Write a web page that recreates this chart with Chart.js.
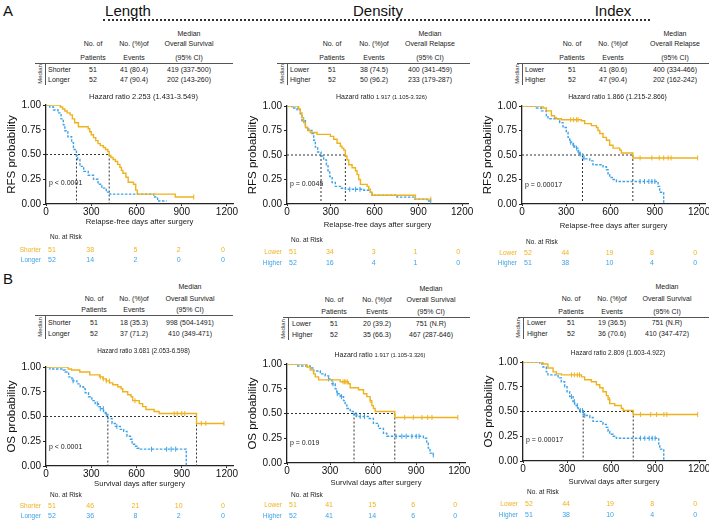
<!DOCTYPE html>
<html>
<head>
<meta charset="utf-8">
<script src="https://cdn.jsdelivr.net/npm/chart.js@4.4.0/dist/chart.umd.min.js"></script>
<style>
  body { margin: 0; background: #fff; font-family: 'Liberation Sans', Arial, sans-serif; color: #222; }
  #page { position: relative; width: 709px; height: 521px; overflow: hidden; background: #fff; }
  .t { position: absolute; white-space: nowrap; line-height: 1; }
  canvas { position: absolute; }
</style>
</head>
<body>
<div id="page"></div>
<script>
// ---- data ----
const riskDays = [0, 300, 600, 900, 1200];

// A: relapse-free survival, Length
const rfsLengthShorterDays = [0, 95, 110, 125, 140, 160, 175, 190, 215, 280, 290, 300, 315, 330, 345, 360, 380, 395, 410, 419, 430, 445, 460, 475, 490, 500, 510, 530, 545, 580, 595, 605, 857, 980];
const rfsLengthShorterSurv = [1, 0.98, 0.96, 0.94, 0.92, 0.90, 0.86, 0.82, 0.78, 0.76, 0.73, 0.70, 0.67, 0.64, 0.61, 0.59, 0.57, 0.55, 0.53, 0.49, 0.47, 0.45, 0.43, 0.40, 0.37, 0.34, 0.31, 0.27, 0.22, 0.20, 0.14, 0.10, 0.07, 0.07];
const rfsLengthShorterCensor = [980];
const rfsLengthLongerDays = [0, 25, 50, 80, 100, 115, 125, 145, 170, 182, 202, 210, 225, 250, 280, 315, 345, 370, 400, 425, 715, 740, 800];
const rfsLengthLongerSurv = [1, 0.98, 0.95, 0.92, 0.86, 0.80, 0.74, 0.68, 0.62, 0.55, 0.49, 0.45, 0.38, 0.33, 0.29, 0.25, 0.20, 0.16, 0.12, 0.10, 0.07, 0.03, 0.03];
const rfsLengthLongerCensor = [];
const rfsLengthShorterRisk = [51, 38, 5, 2, 0];
const rfsLengthLongerRisk = [52, 14, 2, 0, 0];
const rfsLengthMedians = [419, 202];

// A: relapse-free survival, Density
const rfsDensityLowerDays = [0, 80, 91, 103, 114, 126, 142, 160, 206, 297, 320, 343, 366, 377, 389, 400, 411, 423, 446, 469, 480, 491, 503, 549, 560, 571, 583, 880, 985];
const rfsDensityLowerSurv = [1, 0.97, 0.93, 0.88, 0.83, 0.78, 0.75, 0.73, 0.71, 0.69, 0.66, 0.62, 0.59, 0.57, 0.55, 0.49, 0.45, 0.40, 0.37, 0.34, 0.30, 0.25, 0.20, 0.18, 0.15, 0.12, 0.09, 0.05, 0.05];
const rfsDensityLowerCensor = [985];
const rfsDensityHigherDays = [0, 34, 69, 91, 103, 126, 149, 171, 183, 194, 210, 233, 251, 270, 281, 293, 309, 331, 366, 400, 526, 571, 583, 754, 869, 960, 985];
const rfsDensityHigherSurv = [1, 0.98, 0.96, 0.92, 0.85, 0.78, 0.75, 0.72, 0.65, 0.58, 0.53, 0.49, 0.45, 0.40, 0.34, 0.28, 0.22, 0.18, 0.16, 0.15, 0.14, 0.12, 0.09, 0.07, 0.05, 0.03, 0.03];
const rfsDensityHigherCensor = [430, 470, 500, 985];
const rfsDensityLowerRisk = [51, 34, 3, 1, 0];
const rfsDensityHigherRisk = [52, 16, 4, 1, 0];
const rfsDensityMedians = [400, 233];

// A: relapse-free survival, Index
const rfsIndexLowerDays = [0, 142, 165, 199, 221, 233, 267, 402, 425, 470, 504, 515, 527, 549, 572, 594, 617, 662, 673, 751, 1190];
const rfsIndexLowerSurv = [1, 0.98, 0.95, 0.90, 0.88, 0.87, 0.86, 0.85, 0.82, 0.80, 0.78, 0.75, 0.72, 0.68, 0.65, 0.60, 0.57, 0.55, 0.52, 0.47, 0.47];
const rfsIndexLowerCensor = [330, 350, 370, 380, 800, 880, 930, 960, 990, 1010, 1190];
const rfsIndexHigherDays = [0, 97, 131, 165, 176, 255, 278, 300, 312, 323, 346, 357, 380, 391, 410, 425, 459, 481, 549, 572, 583, 594, 617, 640, 922, 933, 960];
const rfsIndexHigherSurv = [1, 0.98, 0.95, 0.90, 0.87, 0.83, 0.78, 0.73, 0.68, 0.63, 0.60, 0.57, 0.53, 0.51, 0.47, 0.46, 0.44, 0.40, 0.38, 0.35, 0.30, 0.27, 0.25, 0.23, 0.18, 0.12, 0];
const rfsIndexHigherCensor = [330, 350, 370, 385, 395, 420, 800, 830, 860, 880, 900];
const rfsIndexLowerRisk = [52, 44, 19, 8, 0];
const rfsIndexHigherRisk = [51, 38, 10, 4, 0];
const rfsIndexMedians = [751, 410];

// B: overall survival, Length
const osLengthShorterDays = [0, 147, 169, 224, 290, 355, 377, 399, 421, 443, 476, 498, 509, 542, 564, 575, 619, 641, 663, 717, 750, 998, 1180];
const osLengthShorterSurv = [1, 0.98, 0.97, 0.95, 0.92, 0.90, 0.88, 0.86, 0.84, 0.82, 0.80, 0.78, 0.75, 0.72, 0.70, 0.66, 0.63, 0.60, 0.57, 0.55, 0.53, 0.43, 0.43];
const osLengthShorterCensor = [360, 380, 400, 420, 590, 850, 870, 900, 920, 1030, 1060, 1180];
const osLengthLongerDays = [0, 26, 115, 127, 150, 172, 205, 227, 249, 260, 282, 304, 326, 348, 360, 382, 393, 410, 438, 460, 493, 515, 537, 560, 571, 593, 604, 626, 930];
const osLengthLongerSurv = [1, 0.98, 0.97, 0.95, 0.90, 0.86, 0.83, 0.80, 0.78, 0.74, 0.70, 0.66, 0.63, 0.60, 0.58, 0.55, 0.52, 0.48, 0.43, 0.40, 0.37, 0.35, 0.30, 0.27, 0.22, 0.20, 0.18, 0.17, 0];
const osLengthLongerCensor = [180, 340, 360, 380, 400, 470, 700, 800, 830, 860];
const osLengthShorterRisk = [51, 46, 21, 10, 0];
const osLengthLongerRisk = [52, 36, 8, 2, 0];
const osLengthMedians = [998, 410];

// B: overall survival, Density
const osDensityLowerDays = [0, 139, 162, 185, 197, 220, 371, 428, 440, 498, 533, 556, 579, 591, 602, 614, 751, 1190];
const osDensityLowerSurv = [1, 0.97, 0.94, 0.90, 0.87, 0.84, 0.82, 0.80, 0.76, 0.74, 0.70, 0.67, 0.63, 0.58, 0.55, 0.52, 0.46, 0.46];
const osDensityLowerCensor = [390, 400, 410, 420, 580, 820, 880, 940, 980, 1010, 1190];
const osDensityHigherDays = [0, 69, 162, 185, 232, 266, 290, 313, 336, 347, 371, 394, 405, 417, 440, 467, 486, 567, 602, 637, 672, 695, 950, 973, 984, 996, 1019];
const osDensityHigherSurv = [1, 0.98, 0.96, 0.93, 0.90, 0.88, 0.85, 0.80, 0.75, 0.70, 0.67, 0.63, 0.60, 0.55, 0.52, 0.49, 0.47, 0.45, 0.40, 0.35, 0.30, 0.27, 0.25, 0.20, 0.15, 0.10, 0.08];
const osDensityHigherCensor = [290, 320, 350, 380, 480, 510, 540, 760, 800, 830, 870, 900, 920, 1019];
const osDensityLowerRisk = [51, 41, 15, 6, 0];
const osDensityHigherRisk = [52, 41, 14, 6, 0];
const osDensityMedians = [751, 467];

// B: overall survival, Index
const osIndexLowerDays = [0, 136, 170, 205, 227, 261, 398, 420, 466, 500, 523, 545, 568, 580, 591, 625, 670, 682, 751, 1190];
const osIndexLowerSurv = [1, 0.98, 0.94, 0.90, 0.88, 0.87, 0.85, 0.82, 0.80, 0.77, 0.74, 0.70, 0.66, 0.62, 0.58, 0.56, 0.53, 0.51, 0.47, 0.47];
const osIndexLowerCensor = [330, 350, 370, 385, 590, 800, 870, 910, 960, 980, 1190];
const osIndexHigherDays = [0, 114, 136, 159, 170, 239, 261, 284, 300, 318, 341, 352, 375, 386, 410, 420, 455, 477, 545, 568, 580, 591, 614, 636, 925, 932, 959];
const osIndexHigherSurv = [1, 0.98, 0.95, 0.90, 0.87, 0.84, 0.80, 0.75, 0.70, 0.65, 0.60, 0.56, 0.53, 0.51, 0.47, 0.46, 0.44, 0.40, 0.37, 0.34, 0.30, 0.27, 0.25, 0.23, 0.17, 0.12, 0];
const osIndexHigherCensor = [330, 350, 370, 390, 405, 420, 800, 830, 860, 880, 900];
const osIndexLowerRisk = [52, 44, 19, 8, 0];
const osIndexHigherRisk = [51, 38, 10, 4, 0];
const osIndexMedians = [751, 410];

// summary tables above each plot
const rfsLengthTable = [['Shorter', '51', '41 (80.4)', '419 (337-500)'], ['Longer', '52', '47 (90.4)', '202 (143-260)']];
const rfsDensityTable = [['Lower', '51', '38 (74.5)', '400 (341-459)'], ['Higher', '52', '50 (96.2)', '233 (179-287)']];
const rfsIndexTable = [['Lower', '51', '41 (80.6)', '400 (334-466)'], ['Higher', '52', '47 (90.4)', '202 (162-242)']];
const osLengthTable = [['Shorter', '51', '18 (35.3)', '998 (504-1491)'], ['Longer', '52', '37 (71.2)', '410 (349-471)']];
const osDensityTable = [['Lower', '51', '20 (39.2)', '751 (N.R)'], ['Higher', '52', '35 (66.3)', '467 (287-646)']];
const osIndexTable = [['Lower', '51', '19 (36.5)', '751 (N.R)'], ['Higher', '52', '36 (70.6)', '410 (347-472)']];

const orange = '#EFB21F';
const blue = '#3DA2E8';

// ---- layout ----
const page = document.getElementById('page');

function txt(x, y, s, size, align, color) {
  const d = document.createElement('div');
  d.className = 't';
  d.textContent = s;
  d.style.left = x + 'px';
  d.style.top = y + 'px';
  d.style.fontSize = size + 'px';
  d.style.color = color || '#222';
  const tx = align === 'c' ? '-50%' : align === 'r' ? '-100%' : '0';
  d.style.transform = 'translate(' + tx + ',-50%)';
  page.appendChild(d);
  return d;
}

function box(x, y, w, h, css) {
  const d = document.createElement('div');
  d.style.cssText = 'position:absolute;left:' + x + 'px;top:' + y + 'px;width:' + w + 'px;height:' + h + 'px;' + css;
  page.appendChild(d);
}

// panel titles
txt(3, 10, 'A', 15, 'l', '#111');
txt(3, 278, 'B', 15, 'l', '#111');
txt(128, 10, 'Length', 15, 'c', '#111');
txt(378, 10, 'Density', 15, 'c', '#111');
txt(613, 10, 'Index', 15, 'c', '#111');
box(103, 19, 547, 0, 'border-top:2px dotted #333;');

function buildTable(t, rows, medLabel) {
  txt(t.cols[2], t.yMed, 'Median', 7, 'c');
  txt(t.cols[0], t.y1, 'No. of', 7, 'c');
  txt(t.cols[1], t.y1, 'No. (%)of', 7, 'c');
  txt(t.cols[2], t.y1, medLabel, 7, 'c');
  txt(t.cols[0], t.y2, 'Patients', 7, 'c');
  txt(t.cols[1], t.y2, 'Events', 7, 'c');
  txt(t.cols[2], t.y2, '(95% CI)', 7, 'c');
  box(t.x0, t.lineY, t.x1 - t.x0, 0, 'border-top:1px solid #555;');
  box(t.vx, t.lineY, 0, t.rows[1] - t.lineY + 6, 'border-left:1px solid #555;');
  const med = txt(t.vx - 5, (t.lineY + t.rows[1] + 6) / 2, 'Median', 6, 'c', '#333');
  med.style.transform = 'translate(-50%,-50%) rotate(-90deg)';
  rows.forEach((r, i) => {
    txt(t.labelX, t.rows[i], r[0], 7, 'l');
    txt(t.cols[0], t.rows[i], r[1], 7, 'c');
    txt(t.cols[1], t.rows[i], r[2], 7, 'c');
    txt(t.cols[2], t.rows[i], r[3], 7, 'c');
  });
}

const topTable = { yMed: 33, y1: 43, y2: 57, lineY: 63, rows: [69, 79] };
buildTable(Object.assign({ cols: [93, 134, 189], x0: 35, x1: 233, vx: 45, labelX: 48 }, topTable), rfsLengthTable, 'Overall Survival');
buildTable(Object.assign({ cols: [332, 374, 430], x0: 277, x1: 470, vx: 287, labelX: 290 }, topTable), rfsDensityTable, 'Overall Relapse');
buildTable(Object.assign({ cols: [572, 613, 675], x0: 517, x1: 709, vx: 522, labelX: 525 }, topTable), rfsIndexTable, 'Overall Relapse');
buildTable({ cols: [94, 134, 190], yMed: 286, y1: 298, y2: 309, lineY: 315, rows: [322, 333], x0: 35, x1: 233, vx: 45, labelX: 48 }, osLengthTable, 'Overall Survival');
buildTable({ cols: [334, 377, 431], yMed: 288, y1: 299, y2: 311, lineY: 317, rows: [323, 334], x0: 283, x1: 470, vx: 288, labelX: 292 }, osDensityTable, 'Overall Survival');
buildTable({ cols: [571, 612, 667], yMed: 286, y1: 298, y2: 311, lineY: 317, rows: [322, 333], x0: 518, x1: 709, vx: 523, labelX: 527 }, osIndexTable, 'Overall Survival');

// ---- KM panels ----
function stepPoints(days, surv) {
  return days.map((d, i) => ({ x: d, y: surv[i] }));
}
function survAt(days, surv, t) {
  let s = surv[0];
  for (let i = 0; i < days.length; i++) if (days[i] <= t) s = surv[i];
  return s;
}
function censorPoints(days, surv, cens) {
  return cens.map(t => ({ x: t, y: survAt(days, surv, t) }));
}

const riskDx = [6, -1, -1, -3, -4];

const panels = [
  { L: 46, X12: 227, T: 105, B: 204, xlab: 18, hz: 8, hzFont: [7.5, 7.5], risk: [33, 46, 56], pY: 0.21,
    yTitle: 'RFS probability', xTitle: 'Relapse-free days after surgery', groups: ['Shorter', 'Longer'],
    a: [rfsLengthShorterDays, rfsLengthShorterSurv, rfsLengthShorterCensor], b: [rfsLengthLongerDays, rfsLengthLongerSurv, rfsLengthLongerCensor],
    riskA: rfsLengthShorterRisk, riskB: rfsLengthLongerRisk, medians: rfsLengthMedians,
    hazard: ['Hazard ratio ', '2.253 (1.431-3.549)'], p: 'p < 0.0001' },
  { L: 287, X12: 462, T: 106, B: 204, xlab: 21, hz: 9, hzFont: [7, 5.8], risk: [36, 48, 59], pY: 0.2,
    yTitle: 'RFS probability', xTitle: 'Relapse-free days after surgery', groups: ['Lower', 'Higher'],
    a: [rfsDensityLowerDays, rfsDensityLowerSurv, rfsDensityLowerCensor], b: [rfsDensityHigherDays, rfsDensityHigherSurv, rfsDensityHigherCensor],
    riskA: rfsDensityLowerRisk, riskB: rfsDensityHigherRisk, medians: rfsDensityMedians,
    hazard: ['Hazard ratio ', '1.917 (1.105-3.326)'], p: 'p = 0.0045' },
  { L: 522, X12: 699, T: 106, B: 204, xlab: 22, hz: 9, hzFont: [6.8, 6.8], risk: [38, 49, 59], pY: 0.19,
    yTitle: 'RFS probability', xTitle: 'Relapse-free days after surgery', groups: ['Lower', 'Higher'],
    a: [rfsIndexLowerDays, rfsIndexLowerSurv, rfsIndexLowerCensor], b: [rfsIndexHigherDays, rfsIndexHigherSurv, rfsIndexHigherCensor],
    riskA: rfsIndexLowerRisk, riskB: rfsIndexHigherRisk, medians: rfsIndexMedians,
    hazard: ['Hazard ratio ', '1.866 (1.215-2.866)'], p: 'p = 0.00017' },
  { L: 46, X12: 227, T: 367, B: 466, xlab: 18, hz: 16, hzFont: [6.4, 6.4], risk: [29, 40, 50], pY: 0.195,
    yTitle: 'OS probability', xTitle: 'Survival days after surgery', groups: ['Shorter', 'Longer'],
    a: [osLengthShorterDays, osLengthShorterSurv, osLengthShorterCensor], b: [osLengthLongerDays, osLengthLongerSurv, osLengthLongerCensor],
    riskA: osLengthShorterRisk, riskB: osLengthLongerRisk, medians: osLengthMedians,
    hazard: ['Hazard ratio ', '3.681 (2.053-6.598)'], p: 'p < 0.0001' },
  { L: 287, X12: 459, T: 364, B: 463, xlab: 20, hz: 9, hzFont: [7, 5.8], risk: [32, 42, 53], pY: 0.2,
    yTitle: 'OS probability', xTitle: 'Survival days after surgery', groups: ['Lower', 'Higher'],
    a: [osDensityLowerDays, osDensityLowerSurv, osDensityLowerCensor], b: [osDensityHigherDays, osDensityHigherSurv, osDensityHigherCensor],
    riskA: osDensityLowerRisk, riskB: osDensityHigherRisk, medians: osDensityMedians,
    hazard: ['Hazard ratio ', '1.917 (1.105-3.326)'], p: 'p = 0.019' },
  { L: 523, X12: 699, T: 362, B: 461, xlab: 21, hz: 9, hzFont: [6.5, 6.5], risk: [31, 43, 54], pY: 0.21,
    yTitle: 'OS probability', xTitle: 'Survival days after surgery', groups: ['Lower', 'Higher'],
    a: [osIndexLowerDays, osIndexLowerSurv, osIndexLowerCensor], b: [osIndexHigherDays, osIndexHigherSurv, osIndexHigherCensor],
    riskA: osIndexLowerRisk, riskB: osIndexHigherRisk, medians: osIndexMedians,
    hazard: ['Hazard ratio ', '2.809 (1.603-4.922)'], p: 'p = 0.00017' }
];

const FONT = "'Liberation Sans', Arial, sans-serif";

function extrasPlugin(p) {
  return {
    id: 'kmExtras',
    beforeDatasetsDraw(chart) {
      const { ctx, scales: { x, y } } = chart;
      ctx.save();
      ctx.strokeStyle = '#333';
      ctx.lineWidth = 1;
      ctx.setLineDash([2, 2]);
      ctx.beginPath();
      const mid = y.getPixelForValue(0.5);
      ctx.moveTo(x.getPixelForValue(0), mid);
      ctx.lineTo(x.getPixelForValue(Math.max(...p.medians)), mid);
      p.medians.forEach(m => {
        ctx.moveTo(x.getPixelForValue(m), mid);
        ctx.lineTo(x.getPixelForValue(m), y.getPixelForValue(0));
      });
      ctx.stroke();
      ctx.restore();
    },
    afterDraw(chart) {
      const { ctx, chartArea: ca, scales: { x, y } } = chart;
      ctx.save();
      ctx.textBaseline = 'middle';
      // hazard ratio
      const hy = ca.top - p.hz;
      ctx.font = p.hzFont[0] + 'px ' + FONT;
      const w1 = ctx.measureText(p.hazard[0]).width;
      ctx.font = p.hzFont[1] + 'px ' + FONT;
      const w2 = ctx.measureText(p.hazard[1]).width;
      const hx = (ca.left + ca.right) / 2 + 4 - (w1 + w2) / 2;
      ctx.fillStyle = '#222';
      ctx.textAlign = 'left';
      ctx.font = p.hzFont[0] + 'px ' + FONT;
      ctx.fillText(p.hazard[0], hx, hy);
      ctx.font = p.hzFont[1] + 'px ' + FONT;
      ctx.fillText(p.hazard[1], hx + w1, hy);
      // p value
      ctx.font = '7px ' + FONT;
      ctx.fillText(p.p, ca.left + 3, y.getPixelForValue(p.pY));
      // number at risk
      ctx.font = '6.5px ' + FONT;
      ctx.fillStyle = '#222';
      ctx.fillText('No. at Risk', ca.left + 4, ca.bottom + p.risk[0]);
      [[p.riskA, orange], [p.riskB, blue]].forEach(([vals, col], r) => {
        const ry = ca.bottom + p.risk[r + 1];
        ctx.fillStyle = col;
        ctx.font = '6.5px ' + FONT;
        ctx.textAlign = 'right';
        ctx.fillText(p.groups[r], ca.left - 5, ry);
        ctx.font = '7px ' + FONT;
        ctx.textAlign = 'center';
        vals.forEach((v, i) => ctx.fillText(String(v), x.getPixelForValue(riskDays[i]) + riskDx[i], ry));
      });
      ctx.restore();
    }
  };
}

panels.forEach(p => {
  const left = p.L - 46;
  const top = p.T - 24;
  const plotRight = p.L + (p.X12 - p.L) * 1240 / 1200;
  const width = Math.round(plotRight - left + 13);
  const xAxisH = p.xlab + 4.6;
  const height = Math.round(p.B + p.risk[2] + 6 - top);
  const padBottom = height - 24 - (p.B - p.T) - xAxisH;

  const cv = document.createElement('canvas');
  cv.width = width;
  cv.height = height;
  cv.style.left = left + 'px';
  cv.style.top = top + 'px';
  cv.style.width = width + 'px';
  cv.style.height = height + 'px';
  page.appendChild(cv);

  new Chart(cv.getContext('2d'), {
    type: 'line',
    data: {
      datasets: [
        { data: stepPoints(p.a[0], p.a[1]), borderColor: orange, borderWidth: 1.4, stepped: true, pointRadius: 0, fill: false },
        { data: stepPoints(p.b[0], p.b[1]), borderColor: blue, borderWidth: 1.4, borderDash: [2.5, 1.5], stepped: true, pointRadius: 0, fill: false },
        { data: censorPoints(p.a[0], p.a[1], p.a[2]), showLine: false, pointStyle: 'line', rotation: 90, pointRadius: 2.5, borderColor: orange, borderWidth: 1 },
        { data: censorPoints(p.b[0], p.b[1], p.b[2]), showLine: false, pointStyle: 'line', rotation: 90, pointRadius: 2.5, borderColor: blue, borderWidth: 1 }
      ]
    },
    options: {
      responsive: false,
      animation: false,
      devicePixelRatio: 1,
      layout: { padding: { top: 24, left: 0, right: 13, bottom: padBottom } },
      plugins: { legend: { display: false }, tooltip: { enabled: false } },
      scales: {
        x: {
          type: 'linear', min: 0, max: 1240,
          afterBuildTicks: s => { s.ticks = riskDays.map(v => ({ value: v })); },
          afterFit: s => { s.height = xAxisH; },
          grid: { display: true, drawOnChartArea: false, tickLength: 2, color: '#222', lineWidth: 1 },
          border: { display: true, color: '#222', width: 1.3 },
          ticks: { autoSkip: false, font: { family: FONT, size: 10 }, color: '#111', padding: 0, maxRotation: 0, callback: v => String(v) },
          title: { display: true, text: p.xTitle, font: { family: FONT, size: 7.7 }, color: '#222', padding: 0 }
        },
        y: {
          min: 0, max: 1,
          afterFit: s => { s.width = 46; },
          grid: { display: true, drawOnChartArea: false, tickLength: 3, color: '#222', lineWidth: 1 },
          border: { display: true, color: '#222', width: 1.3 },
          ticks: { stepSize: 0.25, font: { family: FONT, size: 10 }, color: '#111', padding: 2, callback: v => v.toFixed(2) },
          title: { display: true, text: p.yTitle, font: { family: FONT, size: 11.5 }, color: '#111', padding: { top: 5, bottom: 0 } }
        }
      }
    },
    plugins: [extrasPlugin(p)]
  });
});
</script>
</body>
</html>
